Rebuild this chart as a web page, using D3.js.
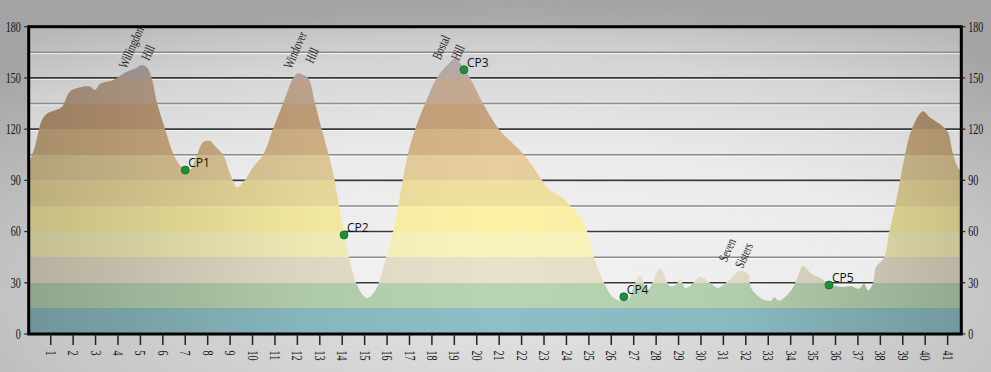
<!DOCTYPE html>
<html>
<head>
<meta charset="utf-8">
<script src="https://cdn.jsdelivr.net/npm/d3@7/dist/d3.min.js"></script>
<style>
  html, body { margin: 0; padding: 0; background: #c8c8c8; }
  svg { display: block; }
</style>
</head>
<body>
<svg id="chart" width="991" height="372"></svg>
<script>
// route profile (miles / metres)
var miles = [
  0, 0.3, 0.6, 0.83, 1.19, 1.5, 1.86, 2.31, 2.75, 2.97,
  3.2, 3.73, 3.96, 4.31, 4.76, 5.07, 5.3, 5.5, 5.75, 6.1,
  6.45, 6.75, 7.0, 7.2, 7.5, 7.8, 8.1, 8.4, 8.69, 9.0,
  9.31, 9.66, 9.98, 10.47, 10.91, 11.36, 11.82, 12.03, 12.2, 12.48,
  12.79, 13.08, 13.4, 13.66, 13.86, 14.08, 14.3, 14.62, 14.9, 15.11,
  15.4, 15.63, 15.96, 16.27, 16.5, 16.7, 16.92, 17.25, 17.7, 18.22,
  18.8, 19.05, 19.3, 19.7, 20.28, 20.99, 21.5, 21.93, 22.38, 22.91,
  23.27, 23.71, 24.16, 24.6, 24.92, 25.23, 25.68, 26.03, 26.39, 26.75,
  27.0, 27.28, 27.64, 28.17, 28.62, 28.9, 29.07, 29.29, 29.51, 29.96,
  30.4, 30.76, 31.21, 31.74, 32.1, 32.23, 32.68, 33.13, 33.26, 33.48,
  34.02, 34.33, 34.55, 34.91, 35.36, 35.71, 36.25, 36.7, 37.05, 37.27,
  37.45, 37.67, 37.8, 38.17, 38.4, 38.66, 38.88, 39.1, 39.4, 39.9,
  40.2, 40.65, 40.83, 41.02, 41.23, 41.4, 41.58, 41.61
];
var elevation = [
  99, 110, 125, 129, 131, 133, 142, 144.5, 145, 143,
  146.5, 148.5, 150, 153, 155.5, 157.5, 156, 150, 135, 120,
  106, 99, 96.5, 96, 104, 112.5, 113, 109, 105, 94,
  86, 90, 97, 105, 120, 135, 150, 152.7, 152, 150,
  135, 120, 105, 90, 75, 60, 45, 30, 23, 21,
  24, 30, 45, 60, 75, 90, 105, 120, 135, 150,
  159, 161.5, 158, 150, 135, 120, 113, 107.5, 100.5, 90,
  84, 81, 75, 69, 60, 45, 30, 22, 19.5, 20,
  28, 34, 26, 38.5, 28, 29, 32.5, 27, 28, 33.5,
  30, 27, 31, 37, 35, 27, 21, 19.5, 21.5, 19.5,
  25.5, 34, 40, 35.5, 32.5, 29.5, 27.5, 28, 26.5, 29.5,
  25.5, 29.5, 39, 45, 60, 75, 90, 105, 120, 130.5,
  127, 123, 121, 118, 106, 99, 95, 94
];

var cpNames = ["CP1", "CP2", "CP3", "CP4", "CP5"];
var cpMiles = [7.0, 14.08, 19.43, 26.56, 35.71];
var cpElev  = [96, 58, 154.8, 21.8, 28.7];

var peakNames = [["Willingdon", "Hill"], ["Windover", "Hill"], ["Bostal", "Hill"], ["Seven", "Sisters"]];
var peakMiles = [4.58, 11.89, 18.40, 31.16];
var peakElev  = [168, 166.4, 168, 49.2];

var yTickLabels = [0, 30, 60, 90, 120, 150, 180];
var xTickLabels = [1, 2, 3, 4, 5, 6, 7, 8, 9, 10, 11, 12, 13, 14, 15, 16, 17, 18, 19, 20,
  21, 22, 23, 24, 25, 26, 27, 28, 29, 30, 31, 32, 33, 34, 35, 36, 37, 38, 39, 40, 41];
var bandEdges = [0, 15, 30, 45, 60, 75, 90, 105, 120, 135, 150, 165, 180];

var bandColors = ["#8ebfc6", "#b8d4b2", "#e8e2cc", "#faf4bc", "#fcf2a6", "#f0e0a0",
  "#e6cf9c", "#d6b688", "#c6a27c", "#c5aa92", "#b9aaaa", "#b9aaaa"];

(function() {
  var W = 991, H = 372;
  var pLeft = 28.3, pRight = 961.3, pTop = 26.7, pBottom = 334;

  var x = d3.scaleLinear().domain([0, 41.61]).range([pLeft, pRight]);
  var y = d3.scaleLinear().domain([0, 180]).range([pBottom, pTop]);

  var svg = d3.select("#chart");
  var defs = svg.append("defs");

  // page + plot backgrounds
  var pageBg = defs.append("radialGradient").attr("id", "pageBg")
    .attr("cx", "52%").attr("cy", "80%").attr("r", "80%");
  pageBg.append("stop").attr("offset", 0).attr("stop-color", "#e6e6e6");
  pageBg.append("stop").attr("offset", 0.6).attr("stop-color", "#c6c6c6");
  pageBg.append("stop").attr("offset", 1).attr("stop-color", "#a4a4a4");

  var plotBg = defs.append("radialGradient").attr("id", "plotBg")
    .attr("cx", "50%").attr("cy", "90%").attr("r", "100%");
  plotBg.append("stop").attr("offset", 0).attr("stop-color", "#f2f2f2");
  plotBg.append("stop").attr("offset", 0.5).attr("stop-color", "#ebebeb");
  plotBg.append("stop").attr("offset", 0.8).attr("stop-color", "#d4d4d4");
  plotBg.append("stop").attr("offset", 1).attr("stop-color", "#b8b8b8");

  // elevation bands, hard stops every 15
  var bands = defs.append("linearGradient").attr("id", "bands")
    .attr("gradientUnits", "userSpaceOnUse")
    .attr("x1", 0).attr("x2", 0).attr("y1", y(0)).attr("y2", y(180));
  bandColors.forEach(function(c, i) {
    bands.append("stop").attr("offset", bandEdges[i] / 180).attr("stop-color", c);
    bands.append("stop").attr("offset", bandEdges[i + 1] / 180).attr("stop-color", c);
  });

  var shade = defs.append("linearGradient").attr("id", "shade")
    .attr("gradientUnits", "userSpaceOnUse")
    .attr("x1", pLeft).attr("x2", pRight).attr("y1", 0).attr("y2", 0);
  [[0, 0.22], [0.3, 0.05], [0.5, 0], [0.75, 0.03], [1, 0.2]].forEach(function(s) {
    shade.append("stop").attr("offset", s[0]).attr("stop-color", "#000").attr("stop-opacity", s[1]);
  });

  defs.append("clipPath").attr("id", "plotClip")
    .append("rect").attr("x", pLeft).attr("y", pTop)
    .attr("width", pRight - pLeft).attr("height", pBottom - pTop);

  svg.append("rect").attr("width", W).attr("height", H).attr("fill", "url(#pageBg)");
  svg.append("rect")
    .attr("x", pLeft).attr("y", pTop).attr("width", pRight - pLeft).attr("height", pBottom - pTop)
    .attr("fill", "url(#plotBg)");

  // gridlines every 15, darker on the 30s
  var grid = svg.append("g").attr("class", "grid");
  bandEdges.slice(1, -1).forEach(function(v) {
    var major = v % 30 === 0;
    grid.append("line")
      .attr("x1", pLeft).attr("x2", pRight).attr("y1", y(v) + 1.4).attr("y2", y(v) + 1.4)
      .attr("stroke", "#fff").attr("stroke-opacity", 0.8).attr("stroke-width", 1);
    grid.append("line")
      .attr("x1", pLeft).attr("x2", pRight).attr("y1", y(v)).attr("y2", y(v))
      .attr("stroke", major ? "#3a3a3a" : "#8c8c8c").attr("stroke-width", major ? 1.6 : 1.4);
  });

  var profile = miles.map(function(m, i) { return { m: m, e: elevation[i] }; });
  var area = d3.area().curve(d3.curveCatmullRom.alpha(0.5))
    .x(function(d) { return x(d.m); })
    .y0(y(0))
    .y1(function(d) { return y(d.e); });

  var plot = svg.append("g").attr("clip-path", "url(#plotClip)");
  plot.append("path").datum(profile).attr("d", area).attr("fill", "url(#bands)");
  plot.append("path").datum(profile).attr("d", area).attr("fill", "url(#shade)");

  // frame
  svg.append("rect")
    .attr("x", pLeft + 0.4).attr("y", pTop).attr("width", pRight - pLeft - 0.4).attr("height", pBottom - pTop)
    .attr("fill", "none").attr("stroke", "#000").attr("stroke-width", 3);

  var serif = "'Liberation Serif', 'Times New Roman', serif";

  // y axes, both sides
  var yAxes = svg.append("g").attr("class", "y axis");
  yTickLabels.forEach(function(v) {
    yAxes.append("line").attr("x1", pLeft - 4).attr("x2", pLeft).attr("y1", y(v)).attr("y2", y(v))
      .attr("stroke", "#222").attr("stroke-width", 1.2);
    yAxes.append("line").attr("x1", pRight).attr("x2", pRight + 4).attr("y1", y(v)).attr("y2", y(v))
      .attr("stroke", "#222").attr("stroke-width", 1.2);
    yAxes.append("text")
      .attr("transform", "translate(" + (pLeft - 7.5) + "," + y(v) + ") scale(0.72,1)")
      .attr("dy", "0.35em").attr("text-anchor", "end")
      .style("font-family", serif).style("font-size", "14px").attr("fill", "#111")
      .text(v);
    yAxes.append("text")
      .attr("transform", "translate(" + (pRight + 7) + "," + y(v) + ") scale(0.72,1)")
      .attr("dy", "0.35em").attr("text-anchor", "start")
      .style("font-family", serif).style("font-size", "14px").attr("fill", "#111")
      .text(v);
  });

  // x axis, one tick per mile
  var xAxis = svg.append("g").attr("class", "x axis");
  xTickLabels.forEach(function(t) {
    xAxis.append("line").attr("x1", x(t)).attr("x2", x(t)).attr("y1", pBottom).attr("y2", pBottom + 11)
      .attr("stroke", "#222").attr("stroke-width", 1.5);
    xAxis.append("text")
      .attr("transform", "translate(" + x(t) + "," + (pBottom + 16.5) + ") rotate(90) scale(0.72,1)")
      .attr("dy", "0.35em").attr("text-anchor", "start")
      .style("font-family", serif).style("font-size", "14px").attr("fill", "#111")
      .text(t);
  });

  // hill names
  peakNames.forEach(function(lines, i) {
    var g = svg.append("g")
      .attr("transform", "translate(" + x(peakMiles[i]) + "," + y(peakElev[i]) + ") rotate(-66)");
    lines.forEach(function(s, j) {
      g.append("text")
        .attr("transform", "translate(" + (j * 2) + "," + (j * 17.5) + ") scale(0.72,1)")
        .attr("dy", "0.35em").attr("text-anchor", "middle")
        .style("font-family", serif).style("font-size", "13.5px").attr("fill", "#222")
        .text(s);
    });
  });

  // checkpoints
  var cps = svg.append("g").attr("class", "cps");
  cpNames.forEach(function(name, i) {
    var cx = x(cpMiles[i]), cy = y(cpElev[i]);
    cps.append("circle").attr("cx", cx).attr("cy", cy).attr("r", 4)
      .attr("fill", "#1f8f3a").attr("stroke", "#0f6a28").attr("stroke-width", 0.8);
    cps.append("text").attr("x", cx + 3).attr("y", cy - 3)
      .style("font-family", "'Open Sans', 'Noto Sans', sans-serif").style("font-size", "12px")
      .attr("fill", "#111").text(name);
  });
})();
</script>
</body>
</html>
